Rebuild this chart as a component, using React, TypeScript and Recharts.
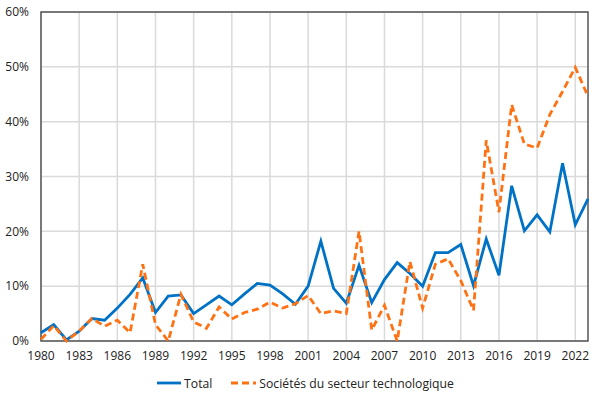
import React from "react";
import {
  LineChart,
  Line,
  XAxis,
  YAxis,
  CartesianGrid,
  ReferenceArea,
  Legend,
} from "recharts";

const years: number[] = [
  1980, 1981, 1982, 1983, 1984, 1985, 1986, 1987, 1988, 1989,
  1990, 1991, 1992, 1993, 1994, 1995, 1996, 1997, 1998, 1999,
  2000, 2001, 2002, 2003, 2004, 2005, 2006, 2007, 2008, 2009,
  2010, 2011, 2012, 2013, 2014, 2015, 2016, 2017, 2018, 2019,
  2020, 2021, 2022, 2023,
];

const total: number[] = [
  1.5, 3.0, 0.2, 1.8, 4.1, 3.8, 6.0, 8.5, 11.5, 5.2,
  8.2, 8.4, 5.0, 6.6, 8.2, 6.6, 8.6, 10.5, 10.2, 8.6,
  6.7, 10.0, 18.2, 9.6, 6.9, 13.8, 7.0, 11.2, 14.3, 12.3,
  10.0, 16.1, 16.1, 17.6, 10.1, 18.6, 12.0, 28.3, 20.1, 23.0,
  19.9, 32.4, 21.2, 25.9,
];

const tech: number[] = [
  0.3, 2.8, 0.0, 1.8, 4.1, 2.7, 3.8, 1.5, 14.0, 3.0,
  0.0, 8.5, 3.5, 2.3, 6.2, 4.0, 5.2, 5.8, 7.1, 6.0,
  6.8, 8.3, 5.0, 5.5, 5.0, 20.0, 2.0, 6.5, 0.0, 14.5,
  6.0, 14.0, 15.0, 11.0, 5.6, 36.6, 23.5, 43.1, 35.9, 35.2,
  41.3, 45.5, 49.9, 44.6,
];

const xTicks: number[] = [1980, 1983, 1986, 1989, 1992, 1995, 1998, 2001, 2004, 2007, 2010, 2013, 2016, 2019, 2022];
const yTicks: number[] = [0, 10, 20, 30, 40, 50, 60];

const seriesNames = { total: "Total", tech: "Sociétés du secteur technologique" };

const data = years.map((y, i) => ({ year: y, total: total[i], tech: tech[i] }));

const BLUE = "#0072c6";
const ORANGE = "#ff7214";
const FONT = "'Open Sans', sans-serif";

const LegendContent = () => (
  <div
    style={{
      display: "flex",
      justifyContent: "center",
      alignItems: "center",
      height: 30,
      fontFamily: FONT,
      fontSize: 12.2,
      color: "#222",
    }}
  >
    <svg width={24} height={10} style={{ marginRight: 3 }}>
      <line x1={0} y1={5} x2={24} y2={5} stroke={BLUE} strokeWidth={2.8} />
    </svg>
    <span style={{ marginRight: 19 }}>{seriesNames.total}</span>
    <svg width={25} height={10} style={{ marginRight: 3 }}>
      <line x1={0} y1={5} x2={25} y2={5} stroke={ORANGE} strokeWidth={2.8} strokeDasharray="7 4" />
    </svg>
    <span>{seriesNames.tech}</span>
  </div>
);

export default function App() {
  return (
    <div style={{ position: "absolute", left: 0, top: 0, width: 611, height: 398, background: "#fff" }}>
      <LineChart
        width={611}
        height={398}
        data={data}
        margin={{ top: 12, right: 23, bottom: 0, left: 0 }}
      >
        <CartesianGrid stroke="#dadada" strokeWidth={1.5} verticalValues={xTicks} horizontalValues={yTicks} />
        <XAxis
          dataKey="year"
          type="number"
          domain={[1980, 2023]}
          ticks={xTicks}
          tickLine={false}
          axisLine={false}
          tickMargin={4}
          height={27}
          interval={0}
          tick={{ fill: "#222", fontSize: 12, fontFamily: FONT }}
        />
        <YAxis
          type="number"
          domain={[0, 60]}
          ticks={yTicks}
          width={41}
          tickLine={false}
          axisLine={false}
          tickMargin={6}
          tickFormatter={(v: number) => `${v}%`}
          tick={{ fill: "#222", fontSize: 12, fontFamily: FONT }}
        />
        <ReferenceArea x1={1980} x2={2023} y1={0} y2={60} fill="none" stroke="#555" strokeWidth={1.5} ifOverflow="extendDomain" />
        <Line
          type="linear"
          dataKey="total"
          name={seriesNames.total}
          stroke={BLUE}
          strokeWidth={2.8}
          dot={false}
          isAnimationActive={false}
        />
        <Line
          type="linear"
          dataKey="tech"
          name={seriesNames.tech}
          stroke={ORANGE}
          strokeWidth={2.8}
          strokeDasharray="7 4"
          dot={false}
          isAnimationActive={false}
        />
        <Legend
          verticalAlign="bottom"
          height={30}
          wrapperStyle={{ left: 0, width: 611 }}
          content={<LegendContent />}
        />
      </LineChart>
    </div>
  );
}
